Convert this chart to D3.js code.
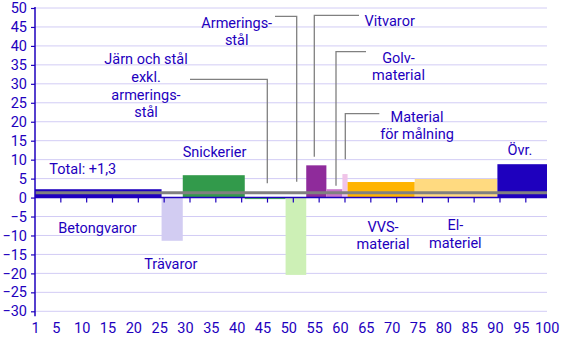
<!DOCTYPE html>
<html>
<head>
<meta charset="utf-8">
<script src="https://cdn.jsdelivr.net/npm/d3@7/dist/d3.min.js"></script>
<style>
  html, body { margin: 0; padding: 0; background: #fff; }
  text { font-family: Roboto, "Open Sans", sans-serif; }
</style>
</head>
<body>
<svg id="chart" width="567" height="340"></svg>
<script>
// ---- data ----
const categories = ["Betongvaror", "Trävaror", "Snickerier", "Järn och stål exkl. armeringsstål",
  "Armeringsstål", "Vitvaror", "Golvmaterial", "Material för målning", "VVS-material", "Elmateriel", "Övr."];
const weights = [24.5, 4.1, 12.0, 7.9, 4.0, 3.9, 3.1, 1.0, 13.0, 16.0, 9.6];
const changes = [2.2, -11.4, 5.9, -0.4, -20.4, 8.5, 2.2, 6.2, 4.1, 4.9, 8.8];
const colors = ["#1E00BE", "#D2CCF2", "#329A4B", "#4CC84C", "#CDF0B6", "#8F2B9B", "#C874C9", "#F0C4E8", "#FFB400", "#FFDA80", "#1E00BE"];
const total = 1.3;
const totalLabel = "Total: +1,3";
const yTicks = d3.range(-30, 51, 5);
const xTickLabels = [1, 5, 10, 15, 20, 25, 30, 35, 40, 45, 50, 55, 60, 65, 70, 75, 80, 85, 90, 95, 100];
const xTickMarks = [5, 10, 15, 20, 25, 30, 35, 40, 45, 50, 55, 60, 65, 70, 75, 80, 85, 90, 95];

// ---- layout ----
const TXT = "#1E00BE";
const mLeft = 35, mRight = 547, mTop = 8, mBottom = 311.3;
const svg = d3.select("#chart");
const xMax = d3.sum(weights);
const x = d3.scaleLinear().domain([0, xMax]).range([mLeft, mRight]);
const y = d3.scaleLinear().domain([-30, 50]).range([mBottom, mTop]);

let cum = 0;
const bars = categories.map((c, i) => {
  const b = { name: c, x0: cum, x1: cum + weights[i], v: changes[i], color: colors[i] };
  cum += weights[i];
  return b;
});

// grid
svg.append("g").selectAll("line").data(yTicks).join("line")
  .attr("x1", mLeft).attr("x2", mRight)
  .attr("y1", d => y(d)).attr("y2", d => y(d))
  .attr("stroke", "#D2CCF5").attr("stroke-width", 1);

// bars
svg.append("g").selectAll("rect").data(bars).join("rect")
  .attr("x", d => x(d.x0))
  .attr("width", d => x(d.x1) - x(d.x0))
  .attr("y", d => y(Math.max(0, d.v)))
  .attr("height", d => Math.abs(y(d.v) - y(0)))
  .attr("fill", d => d.color);

// total line
svg.append("line")
  .attr("x1", mLeft).attr("x2", mRight)
  .attr("y1", y(total)).attr("y2", y(total))
  .attr("stroke", "#808080").attr("stroke-width", 3);

// x axis line + ticks
svg.append("line").attr("x1", mLeft).attr("x2", mRight)
  .attr("y1", y(0)).attr("y2", y(0)).attr("stroke", TXT).attr("stroke-width", 1.5);
svg.append("g").selectAll("line").data(xTickMarks).join("line")
  .attr("x1", d => x(d)).attr("x2", d => x(d))
  .attr("y1", y(0)).attr("y2", y(0) + 5)
  .attr("stroke", TXT).attr("stroke-width", 1.2);

// x tick labels (offset to the left of tick marks, as in the original)
const xl = svg.append("g")
  .attr("transform", `translate(-5,${mBottom})`)
  .call(d3.axisBottom(x).tickValues(xTickLabels).tickSize(0).tickPadding(11).tickFormat(d3.format("d")));
xl.select(".domain").remove();
xl.selectAll("text").attr("fill", TXT).attr("font-size", 14.5).attr("font-family", "Roboto, sans-serif");

// y axis
const ya = svg.append("g")
  .attr("transform", `translate(${mLeft},0)`)
  .call(d3.axisLeft(y).tickValues(yTicks).tickSize(4).tickPadding(4).tickFormat(d3.format("d")));
ya.select(".domain").remove();
ya.selectAll(".tick line").attr("stroke", TXT).attr("stroke-width", 1.2);
ya.selectAll("text").attr("fill", TXT).attr("font-size", 14.5).attr("font-family", "Roboto, sans-serif");
svg.append("line").attr("x1", mLeft).attr("x2", mLeft)
  .attr("y1", mTop - 1).attr("y2", mBottom + 5).attr("stroke", TXT).attr("stroke-width", 1.5);

// leader lines (pixel paths)
const leaders = [
  [[190, 79.3], [267.3, 79.3], [267.3, 183.3]],
  [[275, 16.3], [296.7, 16.3], [296.7, 181.7]],
  [[359, 15.3], [314.3, 15.3], [314.3, 156.7]],
  [[366, 51.7], [336, 51.7], [336, 185.7]],
  [[379.3, 113.7], [345.3, 113.7], [345.3, 159.3]]
];
svg.append("g").selectAll("path").data(leaders).join("path")
  .attr("d", d => d3.line()(d))
  .attr("fill", "none").attr("stroke", "#808080").attr("stroke-width", 1.3);

// text labels
const labels = [
  { lines: ["Järn och stål", "exkl.", "armerings-", "stål"], x: 146, y: 64.3, lh: 17.7 },
  { lines: ["Armerings-", "stål"], x: 236.7, y: 28.3, lh: 17 },
  { lines: ["Vitvaror"], x: 389.7, y: 26, lh: 17 },
  { lines: ["Golv-", "material"], x: 398.5, y: 62.7, lh: 17.3 },
  { lines: ["Material", "för målning"], x: 417, y: 121.7, lh: 16.8 },
  { lines: ["Övr."], x: 520, y: 155, lh: 17 },
  { lines: ["Snickerier"], x: 214.5, y: 156.7, lh: 17 },
  { lines: ["Betongvaror"], x: 97.5, y: 232.7, lh: 17 },
  { lines: ["Trävaror"], x: 170.8, y: 269, lh: 17 },
  { lines: ["VVS-", "material"], x: 383, y: 232, lh: 17.3 },
  { lines: ["El-", "materiel"], x: 455.3, y: 230, lh: 17.5 }
];
labels.forEach(l => {
  const t = svg.append("text").attr("text-anchor", "middle").attr("fill", TXT).attr("font-size", 14.5);
  l.lines.forEach((s, i) => t.append("tspan").attr("x", l.x).attr("y", l.y + i * l.lh).text(s));
});
svg.append("text").attr("x", 49.3).attr("y", 174.3).attr("fill", TXT).attr("font-size", 14.5).text(totalLabel);
</script>
</body>
</html>
